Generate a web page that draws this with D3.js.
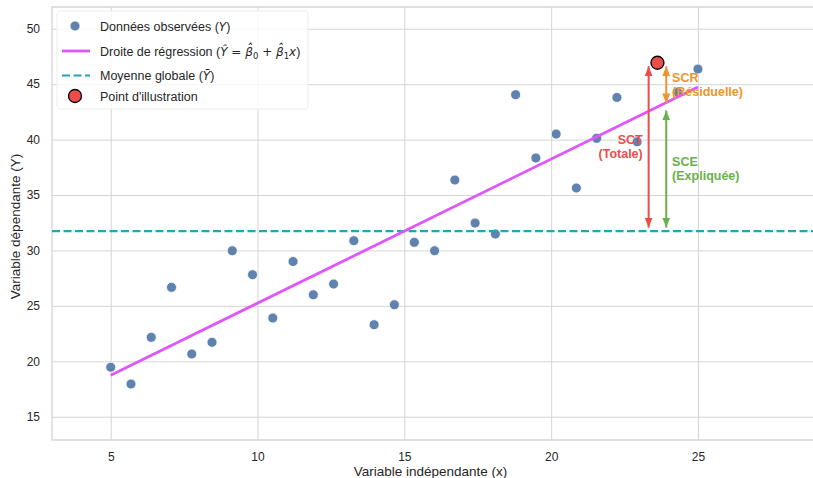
<!DOCTYPE html>
<html>
<head>
<meta charset="utf-8">
<script src="https://cdn.jsdelivr.net/npm/d3@7"></script>
<style>
  body { margin: 0; background: #fff; }
  text { font-family: "Liberation Sans", Arial, sans-serif; }
</style>
</head>
<body>
<svg id="chart" width="813" height="478"></svg>
<script>
// data
var xValues = [5.0, 5.69, 6.38, 7.07, 7.76, 8.45, 9.14, 9.83, 10.52, 11.21,
               11.9, 12.59, 13.28, 13.97, 14.66, 15.34, 16.03, 16.72, 17.41, 18.1,
               18.79, 19.48, 20.17, 20.86, 21.55, 22.24, 22.93, 23.62, 24.31, 25.0];
var yValues = [19.46, 17.95, 22.16, 26.67, 20.66, 21.71, 29.97, 27.81, 23.9, 29.0,
               26.0, 26.97, 30.88, 23.3, 25.1, 30.73, 29.97, 36.35, 32.47, 31.48,
               44.05, 38.34, 40.5, 35.63, 40.11, 43.8, 39.8, 46.93, 44.26, 46.36];
var xTicks = [5, 10, 15, 20, 25];
var yTicks = [15, 20, 25, 30, 35, 40, 45, 50];
var illusIndex = 27;   // point used for the SCT / SCE / SCR arrows

function draw() {
  var data = xValues.map(function(x, i) { return {x: x, y: yValues[i]}; });

  // least squares fit and global mean
  var xMean = d3.mean(xValues), yMean = d3.mean(yValues);
  var sxy = d3.sum(data, function(d) { return (d.x - xMean) * (d.y - yMean); });
  var sxx = d3.sum(data, function(d) { return (d.x - xMean) * (d.x - xMean); });
  var b1 = sxy / sxx, b0 = yMean - b1 * xMean;
  function yHat(x) { return b0 + b1 * x; }

  var svg = d3.select("#chart");
  var mLeft = 52, mTop = 7, mBottom = 440, mRight = 815.4;

  var x = d3.scaleLinear().domain([3, 29]).range([mLeft, mRight]);
  var y = d3.scaleLinear().domain([12.9, 51.96]).range([mBottom, mTop]);

  var gridColor = "#d5d5d5", tickColor = "#262626";

  // grid + tick labels
  var gx = svg.append("g")
    .attr("transform", "translate(0," + mBottom + ")")
    .call(d3.axisBottom(x).tickValues(xTicks).tickSize(-(mBottom - mTop)).tickSizeOuter(0).tickPadding(12));
  var gy = svg.append("g")
    .attr("transform", "translate(" + mLeft + ",0)")
    .call(d3.axisLeft(y).tickValues(yTicks).tickSize(-(mRight - mLeft)).tickSizeOuter(0).tickPadding(12));
  [gx, gy].forEach(function(g) {
    g.select(".domain").remove();
    g.selectAll(".tick line").attr("stroke", gridColor).attr("stroke-width", 1);
    g.selectAll(".tick text").attr("fill", tickColor)
      .style("font-family", '"Liberation Sans", Arial, sans-serif').style("font-size", "12px");
  });

  // spines
  svg.append("path")
    .attr("d", "M" + mRight + "," + mTop + "H" + mLeft + "V" + mBottom + "H" + mRight)
    .attr("fill", "none").attr("stroke", gridColor).attr("stroke-width", 1.3);

  // axis labels
  svg.append("text")
    .attr("x", (mLeft + 813) / 2 - 2).attr("y", 476)
    .attr("text-anchor", "middle").attr("fill", tickColor).style("font-size", "13.5px")
    .text("Variable indépendante (x)");
  svg.append("text")
    .attr("transform", "translate(20," + ((mTop + mBottom) / 2 + 3) + ") rotate(-90)")
    .attr("text-anchor", "middle").attr("fill", tickColor).style("font-size", "13.5px")
    .text("Variable dépendante (Y)");

  var cRed = "#eb4d4b", cOrange = "#f0932b", cGreen = "#6ab04c",
      cTeal = "#22a6b3", cMagenta = "#e056fd", cBlue = "#5f83ae";

  // observed points
  svg.append("g").selectAll("circle")
    .data(data)
    .enter().append("circle")
      .attr("cx", function(d) { return x(d.x); })
      .attr("cy", function(d) { return y(d.y); })
      .attr("r", 5)
      .attr("fill", cBlue)
      .attr("stroke", "#fff").attr("stroke-width", 0.8);

  // mean line
  svg.append("line")
    .attr("x1", mLeft).attr("x2", mRight)
    .attr("y1", y(yMean)).attr("y2", y(yMean))
    .attr("stroke", cTeal).attr("stroke-width", 2.2)
    .attr("stroke-dasharray", "8,3.5");

  // regression line
  var xExt = d3.extent(xValues);
  svg.append("path")
    .datum(xExt)
    .attr("fill", "none")
    .attr("stroke", cMagenta).attr("stroke-width", 2.8)
    .attr("d", d3.line()
      .x(function(d) { return x(d); })
      .y(function(d) { return y(yHat(d)); }));

  // arrows
  var defs = svg.append("defs");
  [cRed, cOrange, cGreen].forEach(function(c, i) {
    defs.append("marker")
      .attr("id", "head" + i)
      .attr("viewBox", "0 -5 10 10")
      .attr("refX", 10).attr("refY", 0)
      .attr("markerWidth", 10).attr("markerHeight", 10)
      .attr("markerUnits", "userSpaceOnUse")
      .attr("orient", "auto-start-reverse")
      .append("path").attr("d", "M0,-4L10,0L0,4Z").attr("fill", c);
  });

  var pi = data[illusIndex];
  var shrink = 3.5;
  function arrow(xv, yFrom, yTo, idx, color) {
    var p1 = y(yFrom), p2 = y(yTo);
    var dir = p2 > p1 ? 1 : -1;
    svg.append("line")
      .attr("x1", x(xv)).attr("x2", x(xv))
      .attr("y1", p1 + dir * shrink).attr("y2", p2 - dir * shrink)
      .attr("stroke", color).attr("stroke-width", 2)
      .attr("marker-start", "url(#head" + idx + ")")
      .attr("marker-end", "url(#head" + idx + ")");
  }
  arrow(pi.x - 0.3, pi.y, yMean, 0, cRed);
  arrow(pi.x + 0.3, pi.y, yHat(pi.x), 1, cOrange);
  arrow(pi.x + 0.3, yHat(pi.x), yMean, 2, cGreen);

  function label(xv, yv, anchor, color, lines) {
    var t = svg.append("text")
      .attr("x", x(xv)).attr("y", y(yv) - 3)
      .attr("text-anchor", anchor).attr("fill", color)
      .style("font-size", "12.5px").style("font-weight", "bold");
    lines.forEach(function(s, i) {
      t.append("tspan").attr("x", x(xv)).attr("dy", i ? 14 : 0).text(s);
    });
  }
  label(pi.x - 0.5, (pi.y + yMean) / 2, "end", cRed, ["SCT", "(Totale)"]);
  label(pi.x + 0.5, (pi.y + yHat(pi.x)) / 2, "start", cOrange, ["SCR", "(Résiduelle)"]);
  label(pi.x + 0.5, (yHat(pi.x) + yMean) / 2, "start", cGreen, ["SCE", "(Expliquée)"]);

  // illustration point
  svg.append("circle")
    .attr("cx", x(pi.x)).attr("cy", y(pi.y)).attr("r", 6.5)
    .attr("fill", cRed).attr("stroke", "#000").attr("stroke-width", 1.3);

  // legend
  var lg = svg.append("g");
  lg.append("rect")
    .attr("x", 57).attr("y", 11).attr("width", 251).attr("height", 98).attr("rx", 3)
    .attr("fill", "#fff").attr("fill-opacity", 0.8)
    .attr("stroke", "#ededed").attr("stroke-width", 1);

  var rows = [26, 51, 75.5, 96];
  lg.append("circle").attr("cx", 75).attr("cy", rows[0]).attr("r", 5).attr("fill", cBlue)
    .attr("stroke", "#fff").attr("stroke-width", 0.8);
  lg.append("line").attr("x1", 62).attr("x2", 90).attr("y1", rows[1]).attr("y2", rows[1])
    .attr("stroke", cMagenta).attr("stroke-width", 2.8);
  lg.append("line").attr("x1", 62).attr("x2", 90).attr("y1", rows[2]).attr("y2", rows[2])
    .attr("stroke", cTeal).attr("stroke-width", 2.2).attr("stroke-dasharray", "8,3.5");
  lg.append("circle").attr("cx", 75).attr("cy", rows[3]).attr("r", 6.5).attr("fill", cRed)
    .attr("stroke", "#000").attr("stroke-width", 1.3);

  var mathFont = '"DejaVu Sans", sans-serif';
  function legendText(row, parts) {
    var t = lg.append("text").attr("x", 100).attr("y", rows[row] + 4.5)
      .attr("fill", tickColor).style("font-size", "12.5px");
    parts.forEach(function(p) {
      var s = t.append("tspan").text(p.t);
      if (p.m) s.style("font-family", mathFont).style("font-size", "12px");
      if (p.i) s.style("font-style", "italic");
      if (p.sub) s.style("font-size", "8.5px").attr("dy", 3);
      if (p.up) s.attr("dy", -3);
    });
  }
  legendText(0, [{t: "Données observées ("}, {t: "Y", m: 1, i: 1}, {t: ")"}]);
  legendText(1, [{t: "Droite de régression ("}, {t: "Ŷ", m: 1, i: 1}, {t: " = ", m: 1},
    {t: "β\u0302", m: 1, i: 1}, {t: "0", m: 1, sub: 1}, {t: " + ", m: 1, up: 1},
    {t: "β\u0302", m: 1, i: 1}, {t: "1", m: 1, sub: 1}, {t: "x", m: 1, i: 1, up: 1}, {t: ")"}]);
  legendText(2, [{t: "Moyenne globale ("}, {t: "Ȳ", m: 1, i: 1}, {t: ")"}]);
  legendText(3, [{t: "Point d'illustration"}]);
}

draw();
</script>
</body>
</html>
